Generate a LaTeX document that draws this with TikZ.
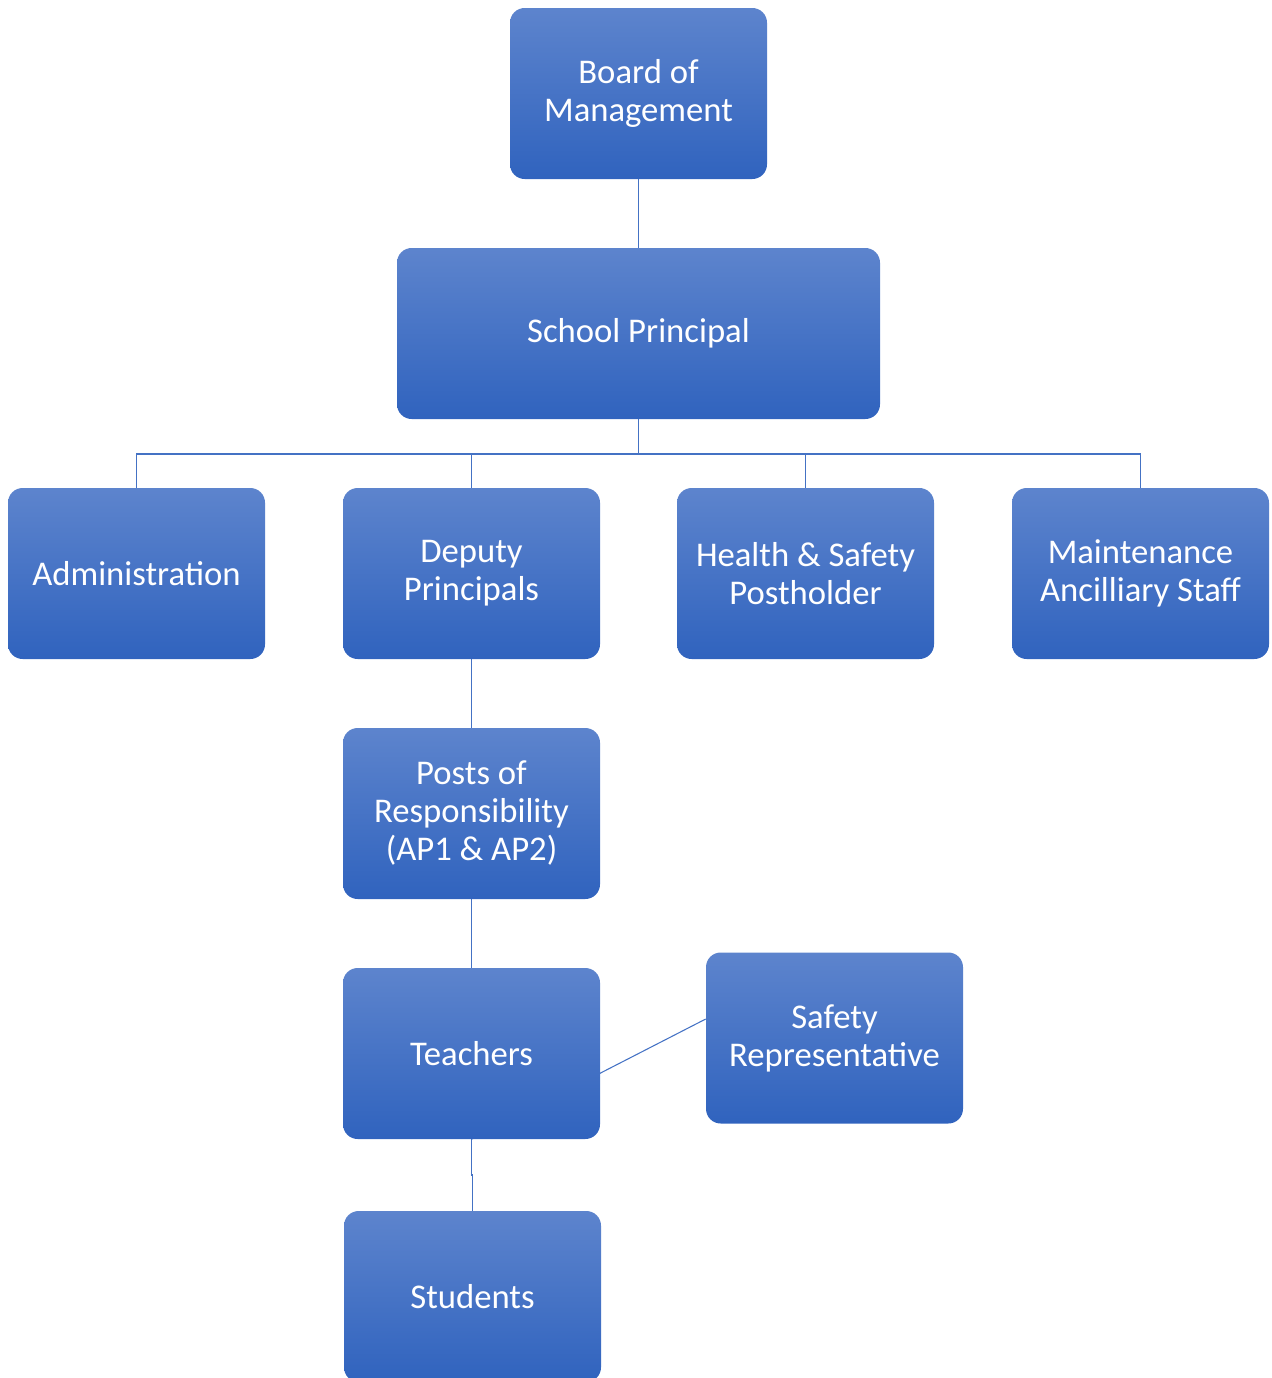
\documentclass[tikz,border=0pt]{standalone}
\usepackage{fontspec}
\setmainfont{Carlito}
\usetikzlibrary{backgrounds,calc}
\definecolor{boxtop}{RGB}{93,132,205}
\definecolor{boxbot}{RGB}{48,99,190}
\definecolor{linecol}{RGB}{68,114,196}
\tikzset{
  orgbox/.style={rectangle, rounded corners=11pt, minimum width=192.75pt, minimum height=128.25pt,
    inner sep=0pt, top color=boxtop, bottom color=boxbot, draw=none, text=white,
    font=\fontsize{26}{28.5}\selectfont, align=center},
  conn/.style={draw=linecol, line width=0.8pt}
}
\begin{document}
\begin{tikzpicture}[x=0.75pt,y=-0.75pt]
\useasboundingbox (0,0) rectangle (1271,1378);
\node[orgbox] (board) at (638.5,93.5) {Board of\\Management};
\node[orgbox, minimum width=362.25pt] (principal) at (638.5,333.5) {School Principal};
\node[orgbox] (admin) at (136.5,573.5) {Administration};
\node[orgbox] (deputy) at (471.5,573.5) {Deputy\\Principals};
\node[orgbox] (health) at (805.5,573.5) {Health \& Safety\\Postholder};
\node[orgbox] (maint) at (1140.5,573.5) {Maintenance\\Ancilliary Staff};
\node[orgbox] (posts) at (471.5,813.5) {Posts of\\Responsibility\\(AP1 \& AP2)};
\node[orgbox] (teachers) at (471.5,1053.5) {Teachers};
\node[orgbox] (safety) at (834.5,1038) {Safety\\Representative};
\node[orgbox] (students) at (472.5,1296.5) {Students};
\coordinate (bus) at (638.5,454);
\begin{scope}[on background layer]
\draw[conn] (board.south) -- (principal.north);
\draw[conn] (principal.south) -- (bus);
\draw[conn] (bus) -| (admin.north);
\draw[conn] (bus) -| (deputy.north);
\draw[conn] (bus) -| (health.north);
\draw[conn] (bus) -| (maint.north);
\draw[conn] (deputy.south) -- (posts.north);
\draw[conn] (posts.south) -- (teachers.north);
\draw[conn] ($(safety.west)+(0,-19)$) -- (teachers.south);
\draw[conn] (teachers.south) |- ($(teachers.south)!0.5!(students.north)$) -| (students.north);
\end{scope}
\end{tikzpicture}
\end{document}
